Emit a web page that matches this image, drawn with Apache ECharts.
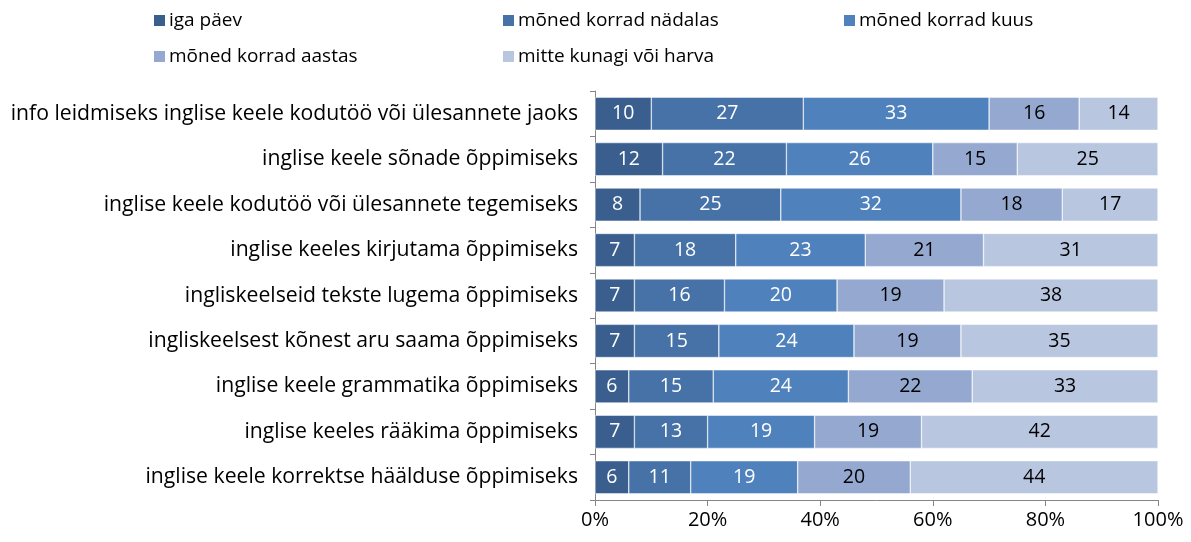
<!DOCTYPE html>
<html>
<head>
<meta charset="utf-8">
<script src="https://cdn.jsdelivr.net/npm/echarts@6/dist/echarts.min.js"></script>
<style>
  html, body { margin: 0; padding: 0; background: #ffffff; }
  #chart { width: 1191px; height: 542px; }
</style>
</head>
<body>
<div id="chart"></div>
<script>
// kategooriad (ülevalt alla)
var categories = [
  'info leidmiseks inglise keele kodutöö või ülesannete jaoks',
  'inglise keele sõnade õppimiseks',
  'inglise keele kodutöö või ülesannete tegemiseks',
  'inglise keeles kirjutama õppimiseks',
  'ingliskeelseid tekste lugema õppimiseks',
  'ingliskeelsest kõnest aru saama õppimiseks',
  'inglise keele grammatika õppimiseks',
  'inglise keeles rääkima õppimiseks',
  'inglise keele korrektse häälduse õppimiseks'
];
var seriesNames = ['iga päev', 'mõned korrad nädalas', 'mõned korrad kuus', 'mõned korrad aastas', 'mitte kunagi või harva'];
var igaPaev   = [10, 12, 8, 7, 7, 7, 6, 7, 6];
var nadalas   = [27, 22, 25, 18, 16, 15, 15, 13, 11];
var kuus      = [33, 26, 32, 23, 20, 24, 24, 19, 19];
var aastas    = [16, 15, 18, 21, 19, 19, 22, 19, 20];
var harva     = [14, 25, 17, 31, 38, 35, 33, 42, 44];
var xTicks = [0, 20, 40, 60, 80, 100];

var values = [igaPaev, nadalas, kuus, aastas, harva];
var colors = ['#3A5F8E', '#4672A8', '#4F81BD', '#95A9D0', '#B9C6E0'];
var labelColors = ['#ffffff', '#ffffff', '#ffffff', '#000000', '#000000'];
var FONT = 'Open Sans';

var chart = echarts.init(document.getElementById('chart'));

// one legend per item to keep the columns
var legendPos = [[147, 6], [496, 6], [837, 6], [147, 42], [496, 42]];
var legends = seriesNames.map(function (name, i) {
  return {
    data: [name],
    left: legendPos[i][0],
    top: legendPos[i][1],
    itemWidth: 13,
    itemHeight: 13,
    itemGap: 0,
    icon: 'rect',
    textStyle: { fontFamily: FONT, fontSize: 19, color: '#000', padding: [0, 0, 0, -2] }
  };
});

var option = {
  animation: false,
  color: colors,
  legend: legends,
  grid: { left: 595, right: 33, top: 91, bottom: 42 },
  xAxis: {
    type: 'value',
    min: 0,
    max: 100,
    interval: 20,
    axisLine: { show: true, lineStyle: { color: '#868686' } },
    axisTick: { show: true, length: 6, lineStyle: { color: '#868686' } },
    splitLine: { show: false },
    axisLabel: {
      fontFamily: FONT, fontSize: 20, color: '#000', margin: 10,
      formatter: function (v) { return xTicks.indexOf(v) >= 0 ? v + '%' : ''; }
    }
  },
  yAxis: {
    type: 'category',
    inverse: true,
    data: categories,
    axisLine: { show: true, lineStyle: { color: '#868686' } },
    axisTick: { show: true, length: 5, lineStyle: { color: '#868686' } },
    axisLabel: { fontFamily: FONT, fontSize: 21.2, color: '#000', margin: 17 }
  },
  series: values.map(function (arr, i) {
    return {
      name: seriesNames[i],
      type: 'bar',
      stack: 'total',
      barCategoryGap: '27%',
      data: arr,
      itemStyle: { color: colors[i], borderColor: '#ffffff', borderWidth: 0.5 },
      label: {
        show: true,
        position: 'inside',
        fontFamily: FONT,
        fontSize: 19.5,
        color: labelColors[i]
      }
    };
  })
};

chart.setOption(option);
</script>
</body>
</html>
